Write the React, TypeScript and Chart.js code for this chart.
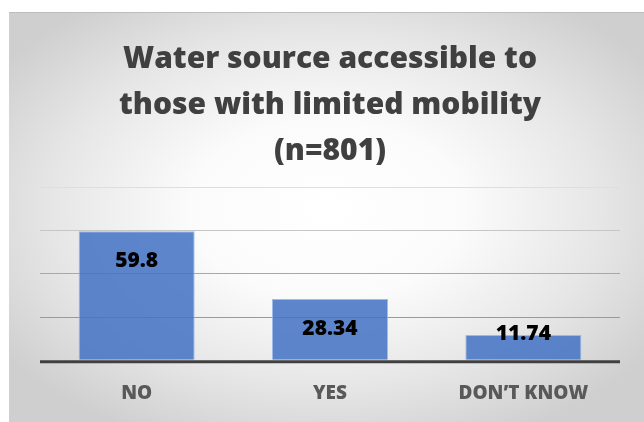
import React, { useEffect, useRef } from "react";
import { Chart, registerables } from "chart.js";

Chart.register(...registerables);

// Survey responses (percent of n=801)
const categories = ["NO", "YES", "DON\u2019T KNOW"];
const percentages = [59.8, 28.34, 11.74];
const titleLines = ["Water source accessible to", "those with limited mobility", "(n=801)"];
const yMax = 80;
const yStep = 20;

const FONT = "'Open Sans', 'Noto Sans', sans-serif";

const gridColors: Record<number, string> = {
  0: "rgba(0,0,0,0)",
  20: "#9a9a9a",
  40: "#a8a8a8",
  60: "#c6c6c6",
  80: "#dedede",
};

// Draws the dark category baseline and the value labels on the bars
const overlayPlugin = {
  id: "overlay",
  afterDatasetsDraw(chart: any) {
    const { ctx, chartArea, scales } = chart;
    const y = scales.y;
    const base = y.getPixelForValue(0);
    ctx.save();
    ctx.strokeStyle = "#404040";
    ctx.lineWidth = 3;
    ctx.beginPath();
    ctx.moveTo(chartArea.left, base + 1.5);
    ctx.lineTo(chartArea.right, base + 1.5);
    ctx.stroke();

    const meta = chart.getDatasetMeta(0);
    ctx.font = `800 21px ${FONT}`;
    ctx.fillStyle = "#000000";
    ctx.textAlign = "center";
    ctx.textBaseline = "middle";
    meta.data.forEach((bar: any, i: number) => {
      const top = bar.y;
      const ly = Math.min(top + 30, base - 26);
      ctx.fillText(String(percentages[i]), bar.x, ly);
    });
    ctx.restore();
  },
};

export default function App() {
  const canvasRef = useRef<HTMLCanvasElement | null>(null);

  useEffect(() => {
    if (!canvasRef.current) return;
    const chart = new Chart(canvasRef.current, {
      type: "bar",
      data: {
        labels: categories,
        datasets: [
          {
            data: percentages,
            backgroundColor: "rgba(68,114,196,0.86)",
            borderColor: "rgba(150,180,230,0.9)",
            borderWidth: 1,
            barPercentage: 0.6,
            categoryPercentage: 1,
          },
        ],
      },
      options: {
        responsive: true,
        maintainAspectRatio: false,
        animation: false,
        layout: { padding: { left: 31, right: 24, top: 0, bottom: 3 } },
        plugins: {
          legend: { display: false },
          tooltip: { enabled: false },
          title: {
            display: true,
            text: titleLines,
            color: "#404040",
            font: { family: FONT, size: 30, weight: "800", lineHeight: 1.53 },
            padding: { top: 24, bottom: 13 },
          },
        },
        scales: {
          x: {
            grid: { display: false },
            border: { display: false },
            ticks: {
              color: "#595959",
              padding: 14,
              font: { family: FONT, size: 19, weight: "800" },
            },
          },
          y: {
            min: 0,
            max: yMax,
            border: { display: false },
            grid: {
              drawTicks: false,
              lineWidth: 1,
              color: (c: any) => gridColors[c.tick?.value] ?? "#cccccc",
            },
            ticks: { display: false, stepSize: yStep },
          },
        },
      },
      plugins: [overlayPlugin],
    });
    return () => chart.destroy();
  }, []);

  return (
    <div style={{ position: "fixed", left: 0, top: 0, width: 644, height: 422, background: "#ffffff" }}>
      <div
        style={{
          position: "absolute",
          left: 9,
          top: 12,
          width: 635,
          height: 410,
          borderTop: "1px solid #bdbdbd",
          boxSizing: "border-box",
          background:
            "radial-gradient(ellipse 62% 62% at 50% 48%, #ffffff 0%, #fbfbfb 35%, #e6e6e6 70%, #cfcfcf 100%)",
        }}
      >
        <canvas ref={canvasRef} />
      </div>
    </div>
  );
}
